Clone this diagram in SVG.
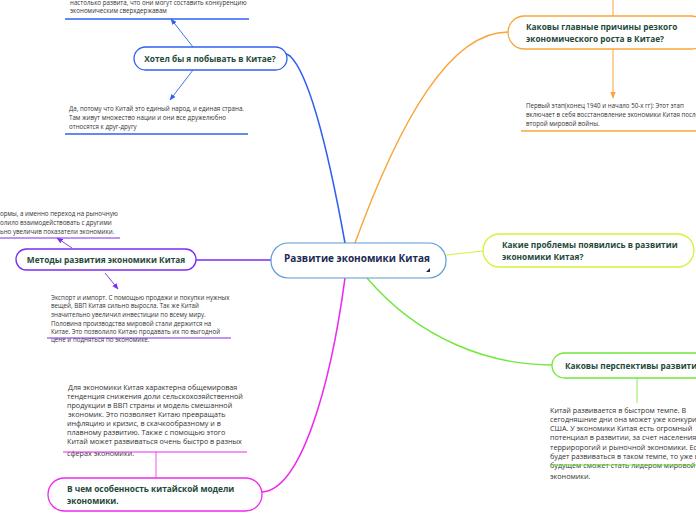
<svg xmlns="http://www.w3.org/2000/svg" width="696" height="520" viewBox="0 0 696 520">
<style>
.t{font-family:"Open Sans","Liberation Sans",sans-serif;font-weight:bold;font-size:8.3px;fill:#1f4a3a}
.b{font-family:"Open Sans","Liberation Sans",sans-serif;font-size:6.2px;fill:#333}
.b2{font-family:"Open Sans","Liberation Sans",sans-serif;font-size:7.2px;fill:#333}
.n{fill:#fff;stroke-width:1.3}
</style>
<defs>
<marker id="ab" viewBox="0 0 10 10" refX="9" refY="5" markerWidth="7" markerHeight="7" orient="auto"><path d="M0,1 L10,5 L0,9 z" fill="#3060f0"/></marker>
<marker id="ap" viewBox="0 0 10 10" refX="9" refY="5" markerWidth="7" markerHeight="7" orient="auto"><path d="M0,1 L10,5 L0,9 z" fill="#7a2cf5"/></marker>
<marker id="ao" viewBox="0 0 10 10" refX="9" refY="5" markerWidth="7" markerHeight="7" orient="auto"><path d="M0,1 L10,5 L0,9 z" fill="#f9a53a"/></marker>
</defs>
<g id="connectors" fill="none">
<path d="M345,243 C330,160 310,75 290,56 Q282,50 276,58" stroke="#3060f0" stroke-width="1.6"/>
<path d="M355,243 C400,120 450,32 508,32" stroke="#f9a53a" stroke-width="1.4"/>
<path d="M446,255 L483,251" stroke="#d8f03a" stroke-width="1.2"/>
<path d="M367,278 C420,340 490,365 552,365" stroke="#70e83a" stroke-width="1.4"/>
<path d="M345,278 C330,390 300,490 262,492" stroke="#ee2aee" stroke-width="1.6"/>
<path d="M185,260 L271,260" stroke="#7a2cf5" stroke-width="1.3"/>
<path d="M193,47 L171,19" stroke="#3060f0" stroke-width="0.9" marker-end="url(#ab)"/>
<path d="M193,70 L170,100" stroke="#3060f0" stroke-width="0.9" marker-end="url(#ab)"/>
<path d="M72,248 L57,238" stroke="#7a2cf5" stroke-width="0.9" marker-end="url(#ap)"/>
<path d="M105,273 L118,289" stroke="#7a2cf5" stroke-width="0.9" marker-end="url(#ap)"/>
<path d="M613,0 L613,16" stroke="#f9a53a" stroke-width="1"/>
<path d="M613,49 L613,98" stroke="#f9a53a" stroke-width="1" marker-end="url(#ao)"/>
<path d="M156,478 L156,452" stroke="#ee2aee" stroke-width="0.8"/>
<path d="M637,378 L637,403" stroke="#70e83a" stroke-width="0.8"/>
</g>
<g id="center">
<rect x="271" y="243" width="175" height="35" rx="17" fill="#fff" stroke="#5a9bd5" stroke-width="1.2"/>
<text x="357" y="262" text-anchor="middle" font-family="Open Sans,Liberation Sans,sans-serif" font-weight="bold" font-size="10" fill="#1c2a55">Развитие экономики Китая</text>
<path d="M426,272 L430,268 L430,272 z" fill="#1c2a55"/>
</g>
<g id="node-visit">
<rect class="n" x="134" y="47" width="153" height="23" rx="11.5" stroke="#3060f0"/>
<text class="t" x="210" y="62" text-anchor="middle">Хотел бы я побывать в Китае?</text>
</g>
<g id="note-visit-top">
<text class="b" x="70" y="5">настолько развита, что они могут составить конкуренцию</text>
<text class="b" x="70" y="13">экономическим сверхдержавам</text>
<line x1="65" y1="19" x2="249" y2="19" stroke="#3060f0" stroke-width="1.6"/>
</g>
<g id="note-visit-bottom">
<text class="b" x="69" y="111">Да, потому что Китай это единый народ, и единая страна.</text>
<text class="b" x="69" y="120">Там живут множество нации и они все дружелюбно</text>
<text class="b" x="69" y="129">относятся к друг-другу</text>
<line x1="65" y1="134" x2="248" y2="134" stroke="#3060f0" stroke-width="1.6"/>
</g>
<g id="node-methods">
<rect class="n" x="16" y="249" width="180" height="21" rx="10.5" stroke="#7a2cf5"/>
<text class="t" x="106" y="263" text-anchor="middle">Методы развития экономики Китая</text>
</g>
<g id="note-methods-top">
<text class="b" x="0" y="216">ормы, а именно переход на рыночную</text>
<text class="b" x="0" y="225">олило взаимодействовать с другими</text>
<text class="b" x="0" y="234">ьно увеличив показатели экономики.</text>
<line x1="0" y1="238" x2="120" y2="238" stroke="#7a2cf5" stroke-width="1"/>
</g>
<g id="note-methods-bottom">
<text class="b" x="51" y="300">Экспорт и импорт.  С помощью продажи и покупки нужных</text>
<text class="b" x="51" y="308">вещей, ВВП Китая сильно выросла. Так же Китай</text>
<text class="b" x="51" y="317">значительно увеличил инвестиции по всему миру.</text>
<text class="b" x="51" y="326">Половина производства мировой стали держится на</text>
<text class="b" x="51" y="334">Китае.  Это позволило Китаю продавать их по выгодной</text>
<text class="b" x="51" y="342">цене и подняться по экономике.</text>
<line x1="47" y1="338" x2="231" y2="338" stroke="#7a2cf5" stroke-width="1"/>
</g>
<g id="node-model">
<rect class="n" x="48" y="478" width="214" height="33" rx="16.5" stroke="#ee2aee"/>
<text class="t" x="67" y="492">В чем особенность китайской модели</text>
<text class="t" x="67" y="504">экономики.</text>
</g>
<g id="note-model">
<text class="b2" x="68" y="390">Для экономики Китая характерна общемировая</text>
<text class="b2" x="67" y="399">тенденция снижения доли сельскохозяйственной</text>
<text class="b2" x="67" y="408">продукции в ВВП страны и модель смешанной</text>
<text class="b2" x="68" y="417">экономик. Это позволяет  Китаю превращать</text>
<text class="b2" x="67" y="426">инфляцию и кризис, в скачкообразному и в</text>
<text class="b2" x="67" y="435">плавному развитию.  Также с помощью этого</text>
<text class="b2" x="67" y="444">Китай может развиваться очень быстро в разных</text>
<text class="b2" x="67" y="456">сферах экономики.</text>
<line x1="63" y1="452" x2="247" y2="452" stroke="#ee2aee" stroke-width="1.2"/>
</g>
<g id="node-reasons">
<rect class="n" x="508" y="16" width="200" height="33" rx="16.5" stroke="#f9a53a"/>
<text class="t" x="526" y="30">Каковы главные причины резкого</text>
<text class="t" x="526" y="42">экономического роста в Китае?</text>
</g>
<g id="note-reasons">
<text class="b" x="526" y="108">Первый этап(конец 1940 и начало 50-х гг): Этот этап</text>
<text class="b" x="526" y="117">включает в себя восстановление экономики Китая после</text>
<text class="b" x="526" y="126">второй мировой войны.</text>
<line x1="521" y1="131" x2="696" y2="131" stroke="#f9a53a" stroke-width="1.6"/>
</g>
<g id="node-problems">
<rect class="n" x="483" y="234" width="211" height="33" rx="16.5" stroke="#d8f03a"/>
<text class="t" x="502" y="248">Какие проблемы появились в развитии</text>
<text class="t" x="502" y="260">экономики  Китая?</text>
</g>
<g id="node-prospects">
<rect class="n" x="552" y="353" width="160" height="25" rx="12.5" stroke="#70e83a"/>
<text class="t" x="565" y="369">Каковы перспективы  развития</text>
</g>
<g id="note-prospects">
<text class="b2" x="550" y="413">Китай развивается в быстром темпе. В</text>
<text class="b2" x="550" y="422">сегодняшние дни она может уже конкурировать с</text>
<text class="b2" x="550" y="431">США. У экономики Китая  есть огромный</text>
<text class="b2" x="550" y="440">потенциал в развитии, за счет населения,</text>
<text class="b2" x="550" y="450">терриророгий и рыночной экономики.  Если</text>
<text class="b2" x="550" y="459">будет развиваться в таком темпе, то уже в</text>
<text class="b2" x="550" y="468">будущем сможет стать лидером мировой</text>
<text class="b2" x="550" y="479">экономики.</text>
<line x1="550" y1="465" x2="696" y2="465" stroke="#70e83a" stroke-width="1.2"/>
</g>
</svg>
